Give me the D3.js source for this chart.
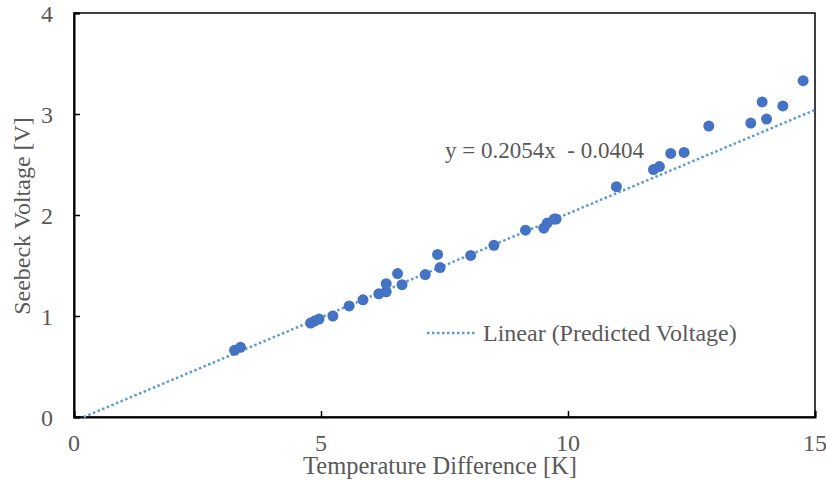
<!DOCTYPE html>
<html>
<head>
<meta charset="utf-8">
<script src="https://cdn.jsdelivr.net/npm/d3@7"></script>
<style>
  body { margin: 0; background: #fff; }
</style>
</head>
<body>
<div id="chart"></div>
<script>
// measured points: temperature difference [K] vs seebeck voltage [V]
const tempDiff = [3.25, 3.37, 4.79, 4.87, 4.96, 5.24, 5.57, 5.85, 6.17, 6.32, 6.32, 6.55, 6.64,
  7.11, 7.36, 7.41, 8.03, 8.50, 9.14, 9.51, 9.58, 9.72, 9.76, 10.98, 11.73, 11.85, 12.08,
  12.35, 12.85, 13.70, 13.93, 14.02, 14.35, 14.76];
const voltage = [0.66, 0.69, 0.93, 0.95, 0.97, 1.00, 1.10, 1.16, 1.22, 1.24, 1.32, 1.42, 1.31,
  1.41, 1.61, 1.48, 1.60, 1.70, 1.85, 1.87, 1.92, 1.96, 1.96, 2.28, 2.45, 2.48, 2.61,
  2.62, 2.88, 2.91, 3.12, 2.95, 3.08, 3.33];

const slope = 0.2054;
const intercept = -0.0404;
const xTicks = [0, 5, 10, 15];
const yTicks = [0, 1, 2, 3, 4];

const width = 826, height = 480;
const margin = { top: 13, right: 11, bottom: 63, left: 74 };
const fontFam = "'Liberation Serif', 'Times New Roman', 'DejaVu Serif', serif";
const grey = "#595959";

const svg = d3.select("#chart")
  .append("svg")
  .attr("width", width)
  .attr("height", height)
  .attr("font-family", fontFam);

const x = d3.scaleLinear().domain([0, 15]).range([margin.left, width - margin.right]);
const y = d3.scaleLinear().domain([0, 4]).range([height - margin.bottom, margin.top]);

// plot frame
svg.append("rect")
  .attr("x", x(0))
  .attr("y", y(4))
  .attr("width", x(15) - x(0))
  .attr("height", y(0) - y(4))
  .attr("fill", "none")
  .attr("stroke", "black")
  .attr("stroke-width", 1.5);

// axes, ticks pointing inward
const xAxis = svg.append("g")
  .attr("transform", `translate(0,${y(0)})`)
  .call(d3.axisTop(x).tickValues(xTicks).tickSize(6).tickFormat(""));
xAxis.select(".domain").attr("stroke-width", 2);
xAxis.selectAll(".tick line").attr("stroke-width", 1.5);

const yAxis = svg.append("g")
  .attr("transform", `translate(${x(0)},0)`)
  .call(d3.axisRight(y).tickValues(yTicks).tickSize(6).tickFormat(""));
yAxis.select(".domain").attr("stroke-width", 2);
yAxis.selectAll(".tick line").attr("stroke-width", 1.5);

// tick labels
svg.selectAll(".xlab")
  .data(xTicks)
  .join("text")
  .attr("class", "xlab")
  .attr("x", d => x(d))
  .attr("y", y(0) + 34)
  .attr("text-anchor", "middle")
  .attr("font-size", 24)
  .attr("fill", grey)
  .text(d => d);

svg.selectAll(".ylab")
  .data(yTicks)
  .join("text")
  .attr("class", "ylab")
  .attr("x", x(0) - 21)
  .attr("y", d => y(d) + 9)
  .attr("text-anchor", "end")
  .attr("font-size", 24)
  .attr("fill", grey)
  .text(d => d);

// axis titles
svg.append("text")
  .attr("x", 440)
  .attr("y", 474)
  .attr("text-anchor", "middle")
  .attr("font-size", 24.5)
  .attr("fill", grey)
  .text("Temperature Difference [K]");

svg.append("text")
  .attr("transform", `translate(30,216) rotate(-90)`)
  .attr("text-anchor", "middle")
  .attr("font-size", 24)
  .attr("fill", grey)
  .text("Seebeck Voltage [V]");

// linear trendline, clipped at y = 0
const x0 = -intercept / slope;
svg.append("line")
  .attr("x1", x(x0))
  .attr("y1", y(0))
  .attr("x2", x(15))
  .attr("y2", y(slope * 15 + intercept))
  .attr("stroke", "#5B9BD5")
  .attr("stroke-width", 2.5)
  .attr("stroke-dasharray", "2.5,2.5");

// points
svg.selectAll(".pt")
  .data(tempDiff.map((t, i) => [t, voltage[i]]))
  .join("circle")
  .attr("class", "pt")
  .attr("cx", d => x(d[0]))
  .attr("cy", d => y(d[1]))
  .attr("r", 5.5)
  .attr("fill", "#4472C4");

// equation label
svg.append("text")
  .attr("x", 445)
  .attr("y", 158)
  .attr("font-size", 23)
  .attr("fill", grey)
  .attr("xml:space", "preserve")
  .style("white-space", "pre")
  .text("y = 0.2054x  - 0.0404");

// legend
svg.append("line")
  .attr("x1", 427)
  .attr("x2", 476)
  .attr("y1", 333)
  .attr("y2", 333)
  .attr("stroke", "#5B9BD5")
  .attr("stroke-width", 2.5)
  .attr("stroke-dasharray", "2.5,2.5");

svg.append("text")
  .attr("x", 483)
  .attr("y", 341)
  .attr("font-size", 24)
  .attr("fill", grey)
  .text("Linear (Predicted Voltage)");
</script>
</body>
</html>
